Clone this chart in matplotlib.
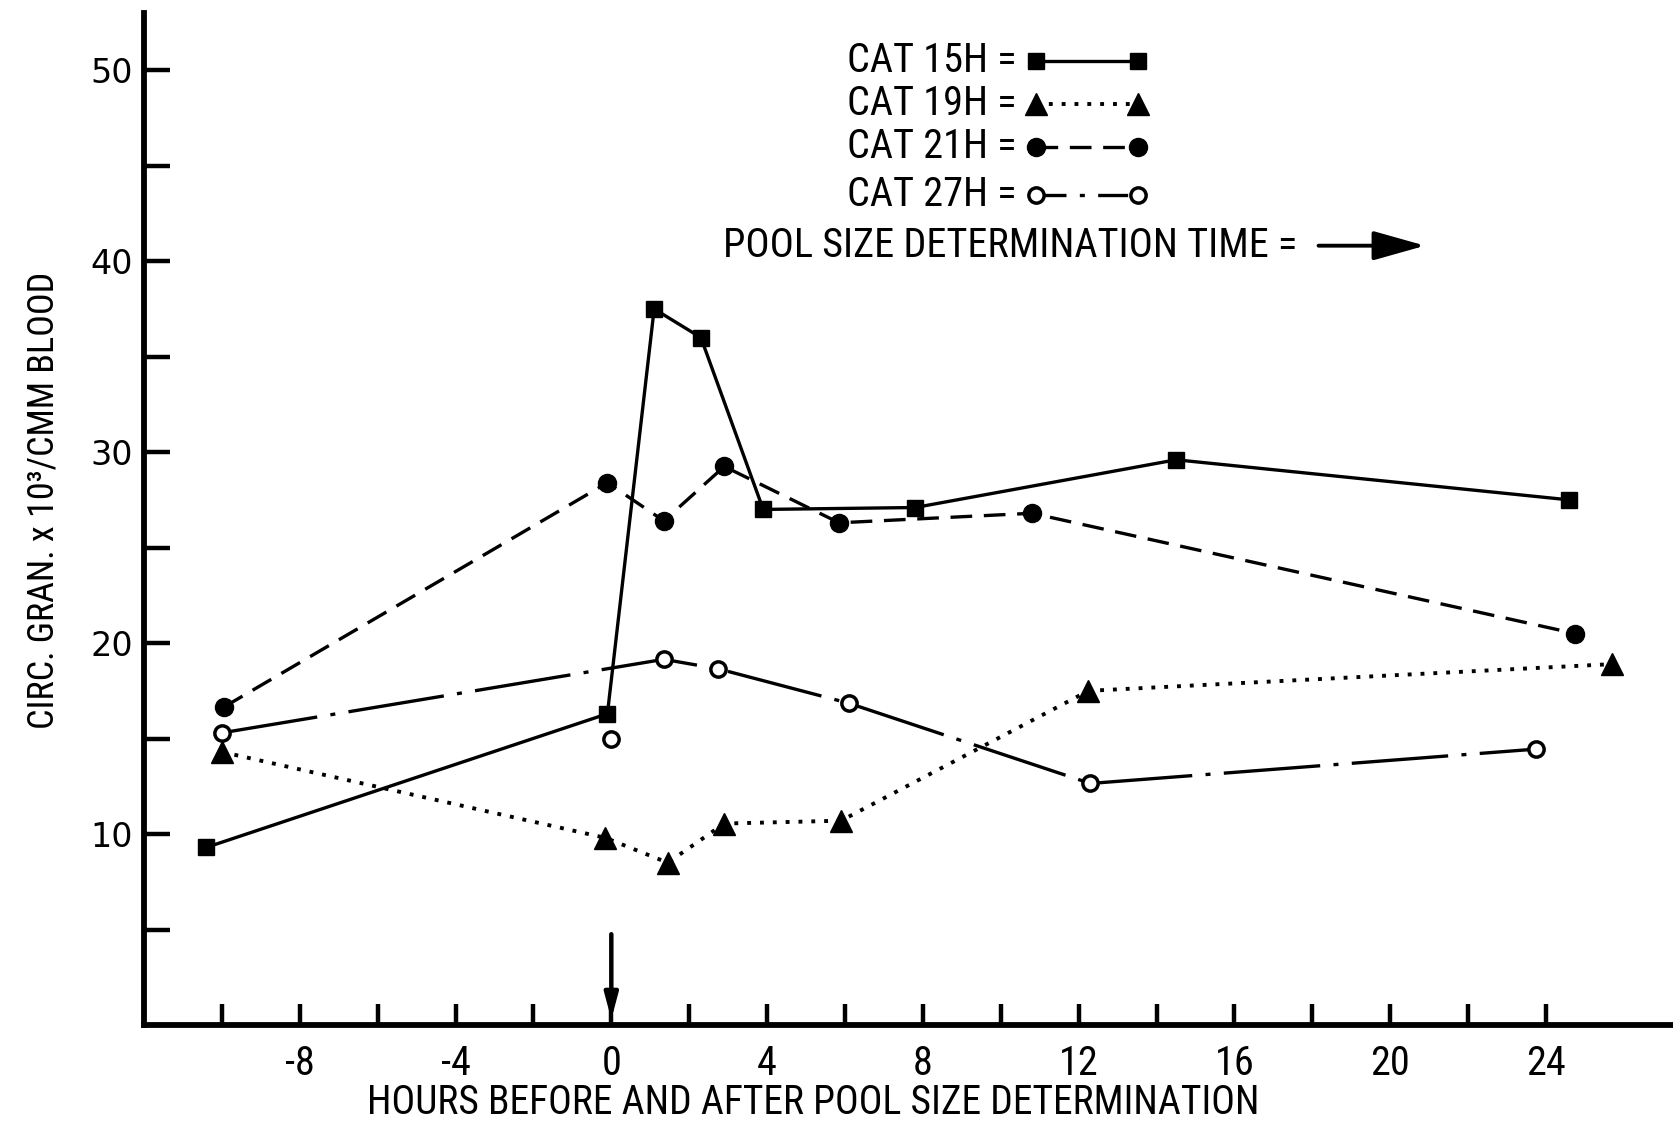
import numpy as np
import matplotlib
matplotlib.use('Agg')
import matplotlib.pyplot as plt
from matplotlib import font_manager as fm
from matplotlib.lines import Line2D

# circulating granulocytes (x10^3/cmm) vs hours from pool size determination
hours_15h = [-10.4, -0.1, 1.1, 2.3, 3.9, 7.8, 14.5, 24.6]
gran_15h = [9.3, 16.3, 37.5, 36.0, 27.0, 27.1, 29.6, 27.5]

hours_19h = [-10.0, -0.15, 1.45, 2.9, 5.9, 12.25, 25.7]
gran_19h = [14.3, 9.8, 8.5, 10.55, 10.7, 17.5, 18.9]

hours_21h = [-9.95, -0.1, 1.35, 2.9, 5.85, 10.8, 24.75]
gran_21h = [16.65, 28.4, 26.4, 29.25, 26.3, 26.8, 20.5]

hours_27h = [-10.0, 1.35, 2.75, 6.1, 12.3, 23.75]
gran_27h = [15.3, 19.15, 18.65, 16.85, 12.65, 14.45]
# lone open circle at 0 h, not joined to the line
hours_27h_extra = [0.0]
gran_27h_extra = [15.0]

labels = ['CAT 15H =', 'CAT 19H =', 'CAT 21H =', 'CAT 27H =']

# pick a narrow font if there is one
names = {f.name for f in fm.fontManager.ttflist}
narrow = 'DejaVu Sans'
for n in ['Liberation Sans Narrow', 'Roboto Condensed', 'Open Sans Condensed', 'DejaVu Sans Condensed']:
    if n in names:
        narrow = n
        break
nfont = dict(family=[narrow, 'DejaVu Sans'], stretch='condensed')

styles = [
    dict(color='black', lw=2.4, ls='-', marker='s', ms=12, mfc='black', mec='black'),
    dict(color='black', lw=2.8, ls=(0, (1, 2.3)), marker='^', ms=16, mfc='black', mec='black'),
    dict(color='black', lw=2.4, ls=(0, (6.5, 3.5)), marker='o', ms=13, mfc='black', mec='black'),
    dict(color='black', lw=2.4, ls=(0, (29, 4, 1.5, 4)), marker='o', ms=11, mfc='white', mec='black', mew=2.5),
]
# shorter dash-dot so the legend sample shows its dot
legend_ls = [None, None, None, (0, (9, 4, 1.5, 4))]

fig = plt.figure(figsize=(16.74, 11.27), dpi=100)
ax = fig.add_axes([0.086, 0.0905, 0.912, 0.898])

series = [(hours_15h, gran_15h), (hours_19h, gran_19h), (hours_21h, gran_21h), (hours_27h, gran_27h)]
for (hx, gy), st in zip(series, styles):
    ax.plot(hx, gy, **st, clip_on=False)
ax.plot(hours_27h_extra, gran_27h_extra, ls='none', marker='o', ms=11, mfc='white', mec='black', mew=2.5)

# pool size determination arrow
ax.annotate('', xy=(0, 0.15), xytext=(0, 4.9),
            arrowprops=dict(arrowstyle='-|>,head_length=1.5,head_width=0.4', color='black', lw=3.2))

ax.set_xlim(-12, 27.2)
ax.set_ylim(0, 53)
for s in ['top', 'right']:
    ax.spines[s].set_visible(False)
for s in ['left', 'bottom']:
    ax.spines[s].set_linewidth(4.2)

ax.set_xticks(np.arange(-8, 25, 4))
ax.set_xticks(np.arange(-10, 23, 4), minor=True)
ax.set_yticks(np.arange(10, 51, 10))
ax.set_yticks(np.arange(5, 46, 10), minor=True)
ax.tick_params(axis='both', which='both', direction='in', width=3.2, color='black')
ax.tick_params(axis='x', which='both', length=15, pad=14)
ax.tick_params(axis='y', which='both', length=19, pad=8)
ax.set_xticklabels(['-8', '-4', '0', '4', '8', '12', '16', '20', '24'], fontsize=29, **nfont)
ax.set_yticklabels(['10', '20', '30', '40', '50'], fontsize=24, family='DejaVu Sans')

fig.text(0.486, 0.022, 'HOURS BEFORE AND AFTER POOL SIZE DETERMINATION',
         ha='center', va='center', fontsize=28.5, **nfont)
fig.text(0.026, 0.556, 'CIRC. GRAN. x 10³/CMM BLOOD', rotation=90,
         ha='center', va='center', fontsize=26, **nfont)

# hand-drawn style legend
rows_y = [0.946, 0.908, 0.870, 0.827]
for lab, st, lls, yy in zip(labels, styles, legend_ls, rows_y):
    fig.text(0.607, yy, lab, ha='right', va='center', fontsize=29, **nfont)
    st2 = dict(st)
    if lls is not None:
        st2['ls'] = lls
    fig.add_artist(Line2D([0.619, 0.680], [yy, yy], transform=fig.transFigure, **st2))
fig.text(0.775, 0.782, 'POOL SIZE DETERMINATION TIME =', ha='right', va='center', fontsize=29, **nfont)
fig.add_artist(matplotlib.patches.FancyArrowPatch((0.786, 0.782), (0.853, 0.782), transform=fig.transFigure,
               arrowstyle='-|>,head_length=1.6,head_width=0.45', color='black', lw=2.8, mutation_scale=20))

fig.savefig('out.png', dpi=100)
